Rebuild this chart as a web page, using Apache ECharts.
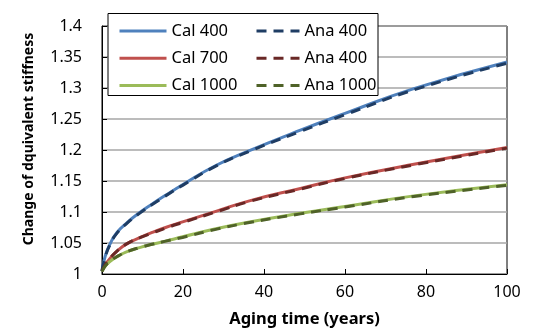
<!DOCTYPE html>
<html>
<head>
<meta charset="utf-8">
<script src="https://cdn.jsdelivr.net/npm/echarts@6/dist/echarts.min.js"></script>
<style>
  html, body { margin: 0; padding: 0; background: #fff; }
  #chart { width: 535px; height: 333px; }
</style>
</head>
<body>
<div id="chart"></div>
<script>
// aging time (years)
var years = [0, 0.8, 2.1, 3.7, 6.2, 9.5, 12.4, 15.7, 19.9, 28.1, 36.4, 49, 60, 77, 100]
var cal400 = [1.005, 1.029, 1.050, 1.067, 1.083, 1.100, 1.113, 1.127, 1.144, 1.175, 1.199, 1.232, 1.259, 1.299, 1.342]
var ana400 = [1.005, 1.028, 1.049, 1.066, 1.082, 1.099, 1.112, 1.126, 1.143, 1.174, 1.198, 1.230, 1.257, 1.297, 1.340]
var cal700 = [1.005, 1.015, 1.026, 1.037, 1.049, 1.059, 1.067, 1.075, 1.084, 1.101, 1.118, 1.138, 1.155, 1.177, 1.204]
var ana700 = [1.005, 1.015, 1.026, 1.037, 1.049, 1.059, 1.066, 1.074, 1.083, 1.100, 1.117, 1.137, 1.154, 1.176, 1.203]
var cal1000 = [1.004, 1.013, 1.021, 1.028, 1.036, 1.043, 1.048, 1.053, 1.060, 1.073, 1.084, 1.098, 1.109, 1.126, 1.144]
var ana1000 = [1.004, 1.013, 1.021, 1.028, 1.036, 1.043, 1.048, 1.053, 1.059, 1.072, 1.083, 1.097, 1.108, 1.125, 1.143]

var font = 'Noto Sans'

function pairs(ys) {
  return years.map(function (x, i) { return [x, ys[i]] })
}

function line(name, ys, color, dashed) {
  return {
    name: name,
    type: 'line',
    data: pairs(ys),
    smooth: true,
    symbol: 'none',
    z: dashed ? 3 : 2,
    lineStyle: {
      color: color,
      width: 3,
      type: dashed ? [10, 7] : 'solid'
    },
    itemStyle: { color: color }
  }
}

var legendBase = {
  orient: 'vertical',
  top: 16,
  itemHeight: 20,
  itemGap: 7.3,
  itemStyle: { opacity: 0 },
  lineStyle: { width: 3 },
  textStyle: { fontFamily: font, fontSize: 16.5, color: '#000', lineHeight: 20 }
}

var chart = echarts.init(document.getElementById('chart'))
chart.setOption({
  animation: false,
  grid: {
    left: 102,
    right: 28,
    top: 26,
    bottom: 56,
    show: true,
    borderColor: '#000',
    borderWidth: 1
  },
  graphic: [{
    type: 'rect',
    z: 3,
    shape: { x: 108, y: 13.5, width: 270, height: 82 },
    style: { fill: '#fff', stroke: '#000', lineWidth: 1 }
  }],
  legend: [
    Object.assign({}, legendBase, {
      data: ['Cal 400', 'Cal 700', 'Cal 1000'],
      left: 113,
      itemWidth: 47
    }),
    Object.assign({}, legendBase, {
      data: ['Ana 400', 'Ana 400 ', 'Ana 1000'],
      left: 250,
      itemWidth: 43
    })
  ],
  xAxis: {
    type: 'value',
    min: 0,
    max: 100,
    interval: 20,
    name: 'Aging time (years)',
    nameLocation: 'middle',
    nameGap: 37,
    nameTextStyle: { fontFamily: font, fontSize: 16.5, fontWeight: 'bold', color: '#000' },
    axisLine: { lineStyle: { color: '#000' } },
    axisTick: { inside: true, length: 5, lineStyle: { color: '#000' } },
    axisLabel: { fontFamily: font, fontSize: 16, color: '#000', margin: 10 },
    splitLine: { show: false }
  },
  yAxis: {
    type: 'value',
    min: 1,
    max: 1.4,
    interval: 0.05,
    name: 'Change of dquivalent stiffness',
    nameLocation: 'middle',
    nameGap: 66,
    nameTextStyle: {
      fontFamily: font, fontSize: 14, fontWeight: 'bold', color: '#000',
      padding: [0, 0, 0, 22]
    },
    axisLine: { show: true, lineStyle: { color: '#000' } },
    axisTick: { show: true, inside: true, length: 5, lineStyle: { color: '#000' } },
    axisLabel: {
      fontFamily: font, fontSize: 16, color: '#000', margin: 20,
      formatter: function (v) { return String(+v.toFixed(2)) }
    },
    splitLine: { lineStyle: { color: '#a6a6a6', width: 1.5 } }
  },
  series: [
    line('Cal 400', cal400, '#4f81bd', false),
    line('Cal 700', cal700, '#c0504d', false),
    line('Cal 1000', cal1000, '#9bbb59', false),
    line('Ana 400', ana400, '#1f3d64', true),
    line('Ana 400 ', ana700, '#692826', true),
    line('Ana 1000', ana1000, '#4f6228', true)
  ]
})
</script>
</body>
</html>
